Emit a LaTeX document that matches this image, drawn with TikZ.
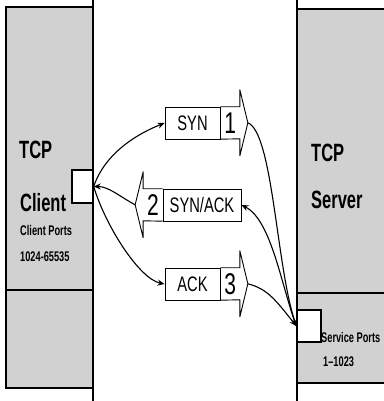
\documentclass[tikz,border=0pt]{standalone}
\usepackage{fontspec}
\newfontfamily\labfont[FakeStretch=0.7]{Liberation Sans}
\newfontfamily\hostfont[FakeStretch=0.66]{Liberation Sans Bold}
\usetikzlibrary{arrows.meta,positioning,calc}
\tikzset{
  host/.style={draw, line width=1.4pt, fill=black!18},
  port/.style={draw, line width=1.4pt, fill=white, inner sep=0pt},
  pkt/.style={draw, line width=0.9pt, minimum height=32pt, inner sep=0pt,
              font=\labfont\fontsize{21}{21}\selectfont},
  pktnum/.style={minimum height=32pt, minimum width=19pt, inner sep=0pt,
                 font=\labfont\fontsize{30}{30}\selectfont},
  pkthead/.style={line width=0.9pt, line join=round},
  hostbig/.style={font=\hostfont\fontsize{25}{25}\selectfont, anchor=west, inner sep=0pt},
  hostsmall/.style={font=\hostfont\fontsize{14}{14}\selectfont, anchor=west, inner sep=0pt},
  pktarrow/.style={-{Stealth[length=7pt,width=6pt]}, line width=1.1pt}
}

\begin{document}
\begin{tikzpicture}[x=1pt,y=1pt]
\useasboundingbox (0,0) rectangle (383,401);
% client and server hosts
\draw[host] (6,13) rectangle (93,394);
\draw[line width=1.4pt] (6,111) -- (93,111);
\draw[host] (297,18) rectangle (386,392);
\draw[line width=1.4pt] (297,108) -- (386,108);
\draw[line width=2pt] (93,0) -- (93,401);
\draw[line width=2pt] (297,0) -- (297,401);

\node[hostbig] (ctcp) at (19,251) {TCP};
\node[hostbig] (cname) at (20,198) {Client};
\node[hostsmall] (cports) at (20,171) {Client Ports};
\node[hostsmall] (crange) at (20,144) {1024-65535};
\node[port, minimum width=21pt, minimum height=33pt] (cport) at (82.5,214.5) {};

\node[hostbig] (stcp) at (311,248) {TCP};
\node[hostbig] (sname) at (311,201) {Server};
\node[port, minimum width=24pt, minimum height=32pt] (sport) at (309,75) {};
\node[hostsmall] (sports) at (321,64) {Service Ports};
\node[hostsmall] (srange) at (323,39) {1\textendash1023};

% segments
\node[pkt, minimum width=55pt] (syn) at (192.5,278) {SYN};
\node[pktnum, right=0pt of syn] (synnum) {1};
\draw[pkthead] (synnum.north west) -- (synnum.north east) -- ++(0,17)
  -- ++(8,-33) coordinate (syntip) -- ++(-8,-33) -- ++(0,17) -- (synnum.south west);

\node[pkt, minimum width=78pt] (synack) at (202,196) {SYN/ACK};
\node[pktnum, left=0pt of synack] (synacknum) {2};
\draw[pkthead] (synacknum.north east) -- (synacknum.north west) -- ++(0,17)
  -- ++(-8,-33) coordinate (synacktip) -- ++(8,-33) -- ++(0,17) -- (synacknum.south east);

\node[pkt, minimum width=55pt] (ack) at (192.5,117) {ACK};
\node[pktnum, right=0pt of ack] (acknum) {3};
\draw[pkthead] (acknum.north west) -- (acknum.north east) -- ++(0,17)
  -- ++(8,-33) coordinate (acktip) -- ++(-8,-33) -- ++(0,17) -- (acknum.south west);

% handshake
\draw[pktarrow] (cport.east) .. controls +(12,35) and +(-25,-10) .. (syn.west);
\draw[pktarrow] (syntip) .. controls +(25,-10) and +(-20,60) .. (sport.west);
\draw[pktarrow] (sport.west) .. controls +(-15,40) and +(30,-15) .. (synack.east);
\draw[pktarrow] (synacktip) .. controls +(-15,8) and +(15,0) .. (cport.east);
\draw[pktarrow] (cport.east) .. controls +(12,-40) and +(-25,5) .. (ack.west);
\draw[pktarrow] (acktip) .. controls +(20,-5) and +(-20,25) .. (sport.west);
\end{tikzpicture}
\end{document}
